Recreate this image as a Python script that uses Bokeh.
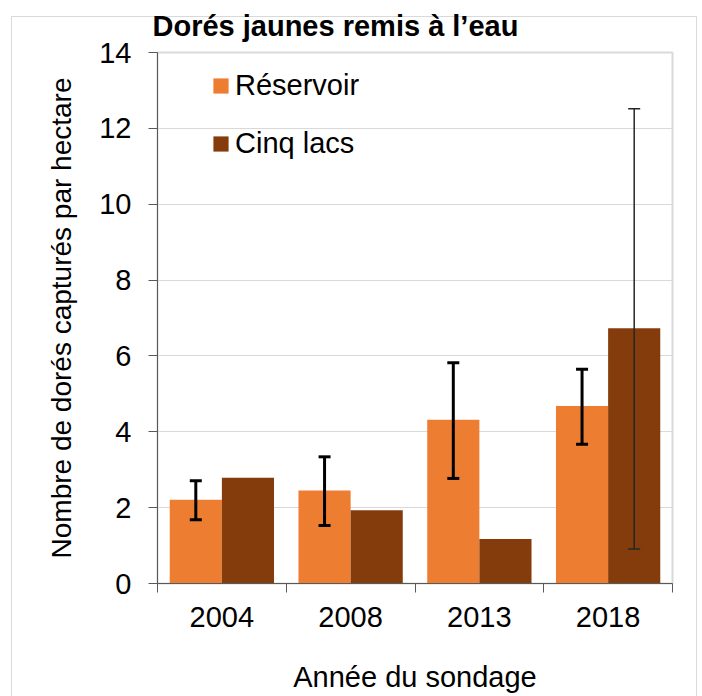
from bokeh.plotting import figure
from bokeh.models import (ColumnDataSource, Range1d, LinearAxis,
                          FixedTicker, CustomJSTickFormatter, Whisker, TeeHead,
                          Legend, LegendItem)
from bokeh.transform import dodge
from bokeh.embed import file_html
from bokeh.resources import INLINE

# ---- data ----
years = ["2004", "2008", "2013", "2018"]
reservoir = [2.21, 2.45, 4.32, 4.68]
reservoir_low = [1.68, 1.53, 2.77, 3.67]
reservoir_high = [2.71, 3.34, 5.82, 5.65]
cinq_lacs = [2.79, 1.93, 1.17, 6.73]
cinq_lacs_low = [None, None, None, 0.91]
cinq_lacs_high = [None, None, None, 12.52]
y_ticks = [0, 2, 4, 6, 8, 10, 12, 14]

title_text = "Dorés jaunes remis à l’eau"
x_label = "Année du sondage"
y_label = "Nombre de dorés capturés par hectare"
series_names = ["Réservoir", "Cinq lacs"]
colors = ["#ED7D31", "#843C0C"]

FONT = "Liberation Sans"
FS = "29px"

# category slot centres on a numeric axis (slot i spans [i, i+1])
pos = [i + 0.5 for i in range(len(years))]
bounds = list(range(len(years) + 1))

src = ColumnDataSource(dict(pos=pos, year=years, res=reservoir, cinq=cinq_lacs))
res_err = ColumnDataSource(dict(pos=pos, low=reservoir_low, high=reservoir_high))
idx = [i for i, v in enumerate(cinq_lacs_low) if v is not None]
cinq_err = ColumnDataSource(dict(pos=[pos[i] for i in idx],
                                 low=[cinq_lacs_low[i] for i in idx],
                                 high=[cinq_lacs_high[i] for i in idx]))

# light grey chart-area border, drawn as CSS background behind a transparent canvas border
G = "linear-gradient(#d9d9d9,#d9d9d9)"
border_css = (f"{G} 11px 16px / 686px 1px no-repeat, "
              f"{G} 11px 16px / 1px 700px no-repeat, "
              f"{G} 696px 16px / 1px 700px no-repeat, white")

p = figure(x_range=Range1d(0, len(years)), y_range=Range1d(0, 14),
           width=702, height=696, output_backend="svg", toolbar_location=None,
           x_axis_location=None,
           min_border_left=157, min_border_right=30, min_border_top=52, min_border_bottom=113,
           styles={"background": border_css})
p.background_fill_color = "white"
p.border_fill_color = None
p.outline_line_color = "#d9d9d9"
p.outline_line_width = 2
p.xgrid.visible = False

p.title.text = title_text
p.title.text_font = FONT
p.title.text_font_size = "29px"
p.title.text_font_style = "bold"
p.title.text_color = "black"
p.title.align = "left"
p.title.vertical_align = "top"
p.title.offset = -5
p.title.standoff = 17

BW = 0.405
OFF = 0.2025
r1 = p.vbar(x=dodge("pos", -OFF), top="res", width=BW, source=src,
            fill_color=colors[0], line_color=None)
r2 = p.vbar(x=dodge("pos", OFF), top="cinq", width=BW, source=src,
            fill_color=colors[1], line_color=None)

w1 = Whisker(base=dodge("pos", -OFF), upper="high", lower="low", source=res_err,
             line_color="black", line_width=3, level="overlay",
             upper_head=TeeHead(size=12, line_width=3, line_color="black"),
             lower_head=TeeHead(size=12, line_width=3, line_color="black"))
w2 = Whisker(base=dodge("pos", OFF), upper="high", lower="low", source=cinq_err,
             line_color="#262626", line_width=1.5, level="overlay",
             upper_head=TeeHead(size=12, line_width=1.5, line_color="#262626"),
             lower_head=TeeHead(size=12, line_width=1.5, line_color="#262626"))
p.add_layout(w1)
p.add_layout(w2)

# y axis
p.yaxis.ticker = FixedTicker(ticks=y_ticks)
p.yaxis.major_label_text_font = FONT
p.yaxis.major_label_text_font_size = FS
p.yaxis.major_label_text_color = "black"
p.yaxis.axis_line_color = "#595959"
p.yaxis.major_tick_line_color = "#595959"
p.yaxis.major_tick_out = 9
p.yaxis.major_tick_in = 0
p.yaxis.minor_tick_line_color = None
p.yaxis.major_label_standoff = 17
p.yaxis.axis_label = y_label
p.yaxis.axis_label_text_font = FONT
p.yaxis.axis_label_text_font_size = "28px"
p.yaxis.axis_label_text_font_style = "normal"
p.yaxis.axis_label_text_color = "black"
p.yaxis.axis_label_standoff = 19
p.ygrid.grid_line_color = "#d9d9d9"
p.ygrid.ticker = FixedTicker(ticks=y_ticks)

# x axes: boundary ticks + category labels
tick_axis = LinearAxis(ticker=FixedTicker(ticks=bounds),
                       formatter=CustomJSTickFormatter(code="return ''"),
                       major_tick_out=9, major_tick_in=0,
                       minor_tick_line_color=None,
                       axis_line_color="#595959", major_tick_line_color="#595959",
                       major_label_text_font_size="1px", major_label_standoff=0)
p.add_layout(tick_axis, "below")
cat_axis = LinearAxis(ticker=FixedTicker(ticks=pos),
                      major_label_overrides={pp: yy for pp, yy in zip(pos, years)},
                      axis_line_color=None, major_tick_line_color=None,
                      minor_tick_line_color=None,
                      major_tick_out=0, major_tick_in=0,
                      major_label_standoff=14,
                      major_label_text_font=FONT, major_label_text_font_size=FS,
                      major_label_text_color="black",
                      axis_label=x_label, axis_label_text_font=FONT,
                      axis_label_text_font_size=FS, axis_label_text_font_style="normal",
                      axis_label_text_color="black", axis_label_standoff=31)
p.add_layout(cat_axis, "below")

legend = Legend(items=[LegendItem(label=series_names[0], renderers=[r1]),
                       LegendItem(label=series_names[1], renderers=[r2])],
                location=(54, 423), padding=0, margin=0, spacing=25,
                glyph_width=19, glyph_height=19, label_standoff=5,
                label_text_font=FONT, label_text_font_size=FS, label_text_color="black",
                background_fill_alpha=0, border_line_color=None)
p.add_layout(legend)

open("out.html", "w").write(file_html(p, INLINE))
